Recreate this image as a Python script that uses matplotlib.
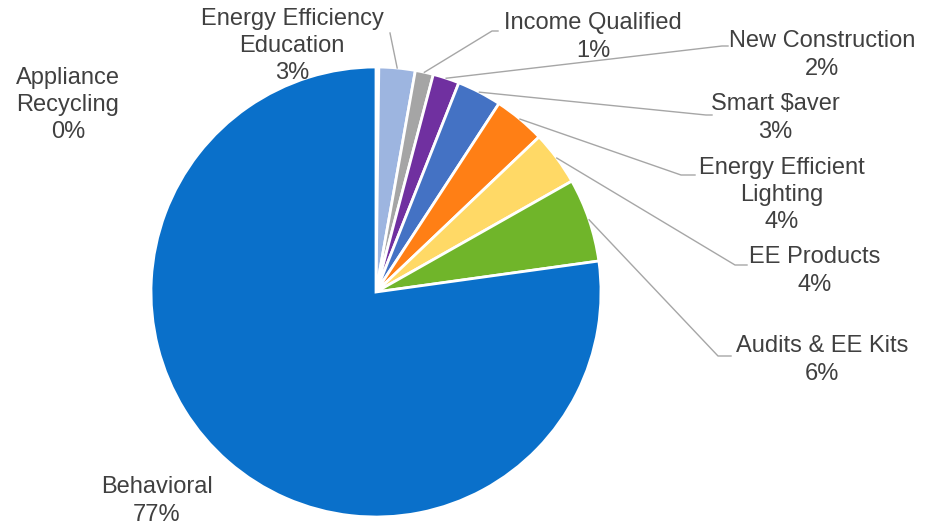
import matplotlib
matplotlib.use("Agg")
import matplotlib.pyplot as plt
import numpy as np

plt.rcParams['font.family'] = ['Liberation Sans', 'DejaVu Sans']

# Programme shares (percent), clockwise from 12 o'clock
labels = ["Appliance\nRecycling", "Energy Efficiency\nEducation", "Income Qualified",
          "New Construction", "Smart $aver", "Energy Efficient\nLighting",
          "EE Products", "Audits & EE Kits", "Behavioral"]
values = [0.2, 2.6, 1.3, 1.9, 3.2, 3.7, 3.9, 6.0, 77.2]
shown = ["0%", "3%", "1%", "2%", "3%", "4%", "4%", "6%", "77%"]
colors = ["#A9C4EB", "#9DB5E0", "#A5A5A5", "#7030A0", "#4472C4",
          "#FF7F15", "#FFD966", "#70B52A", "#0A70CA"]

# label text centres (pixels) and leader elbow points
text_pos = [(68, 105), (292, 46), (593, 37), (822, 55), (775, 118),
            (782, 195), (815, 271), (822, 360), (157, 501)]
elbow = [None, (390, 33), (492, 31), (722, 46), (706, 115),
         (681, 175), (735, 265), (718, 356), None]
hook = [None, None, 498, 728, 712, 695, 747, 731, None]

cx, cy, r = 376, 292, 225

fig = plt.figure(figsize=(9.25, 5.27), dpi=100)
ax = fig.add_axes([0, 0, 1, 1])
ax.set_xlim(0, 925)
ax.set_ylim(527, 0)
ax.set_aspect('equal')
ax.axis('off')

# y axis is inverted, so counterclock=True draws clockwise on screen
wedges, _ = ax.pie(values, colors=colors, startangle=-90, counterclock=True,
                   center=(cx, cy), radius=r,
                   wedgeprops=dict(edgecolor='white', linewidth=2))
ax.set_xlim(0, 925)
ax.set_ylim(527, 0)

for i, w in enumerate(wedges):
    tx, ty = text_pos[i]
    ax.text(tx, ty, labels[i] + "\n" + shown[i], ha='center', va='center',
            fontsize=17, color='#404040', linespacing=1.3)
    if elbow[i] is not None:
        mid = np.deg2rad((w.theta1 + w.theta2) / 2)
        px = cx + r * np.cos(mid)
        py = cy + r * np.sin(mid)
        ex, ey = elbow[i]
        xs = [px, ex]
        ys = [py, ey]
        if hook[i] is not None:
            xs.append(hook[i])
            ys.append(ey)
        ax.plot(xs, ys, color='#A6A6A6', linewidth=1)

plt.savefig("out.png", dpi=100)
